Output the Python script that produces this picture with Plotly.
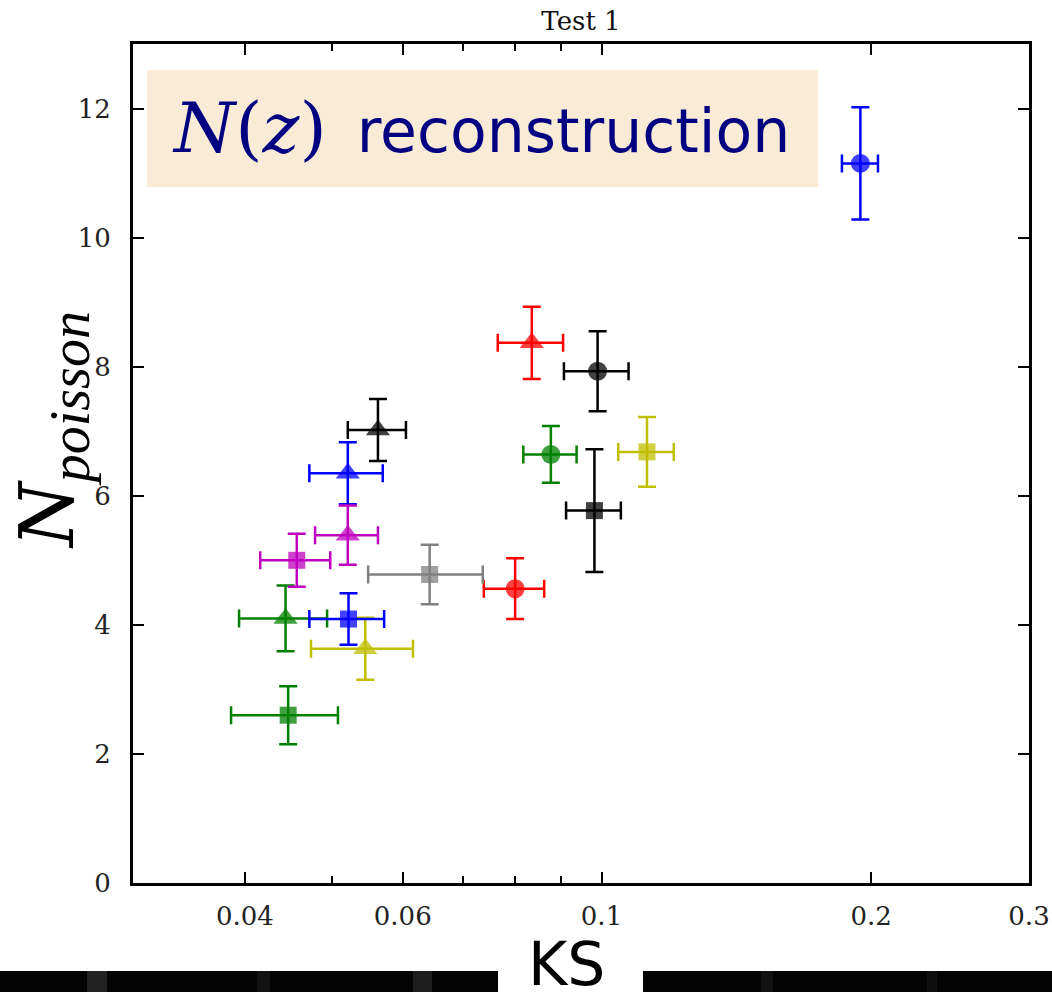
import math
import plotly.graph_objects as go

# KS statistic vs. Poisson N for each reconstruction, grouped by marker shape
circle_colors = ["blue", "black", "green", "red"]
circle_ks = [0.1945, 0.0990, 0.0878, 0.0801]
circle_ks_err = [0.0090, 0.0082, 0.0060, 0.0062]
circle_n = [11.15, 7.93, 6.64, 4.56]
circle_n_err = [0.87, 0.62, 0.44, 0.47]

triangle_colors = ["red", "black", "blue", "magenta", "green", "yellow"]
triangle_ks = [0.0836, 0.0563, 0.0521, 0.0521, 0.0444, 0.0545]
triangle_ks_err = [0.0070, 0.0042, 0.0049, 0.0042, 0.0050, 0.0071]
triangle_n = [8.37, 7.02, 6.35, 5.39, 4.10, 3.63]
triangle_n_err = [0.56, 0.48, 0.48, 0.46, 0.51, 0.48]

square_colors = ["yellow", "black", "gray", "magenta", "blue", "green"]
square_ks = [0.1124, 0.0982, 0.0643, 0.0457, 0.0522, 0.0447]
square_ks_err = [0.0080, 0.0069, 0.0094, 0.0041, 0.0050, 0.0061]
square_n = [6.68, 5.77, 4.78, 5.00, 4.09, 2.60]
square_n_err = [0.54, 0.95, 0.46, 0.41, 0.40, 0.45]

x_major = [0.04, 0.06, 0.1, 0.2, 0.3]
x_major_text = ["0.04", "0.06", "0.1", "0.2", "0.3"]
x_minor = [0.05, 0.07, 0.08, 0.09]
y_ticks = [0, 2, 4, 6, 8, 10, 12]

PALETTE = {
    "blue": "#0000ff",
    "black": "#000000",
    "green": "#008000",
    "red": "#ff0000",
    "magenta": "#bf00bf",
    "yellow": "#bfbf00",
    "gray": "#808080",
}

SERIF = "DejaVu Serif"
SERIF_NARROW = "Liberation Serif"
SANS = "DejaVu Sans"

# Plot area in pixels (left, right, top, bottom) of the 1052x992 canvas
PL, PR, PT, PB = 133, 1029, 44, 883
PW, PH = PR - PL, PB - PT


def px_x(px):
    return (px - PL) / PW


def px_y(py):
    return (PB - py) / PH


fig = go.Figure()

groups = [
    ("circle", 19, circle_colors, circle_ks, circle_ks_err, circle_n, circle_n_err),
    ("triangle-up", 21, triangle_colors, triangle_ks, triangle_ks_err, triangle_n, triangle_n_err),
    ("square", 17, square_colors, square_ks, square_ks_err, square_n, square_n_err),
]

for symbol, size, colors, ks, ks_err, n, n_err in groups:
    for c, x, ex, y, ey in zip(colors, ks, ks_err, n, n_err):
        col = PALETTE[c]
        fig.add_trace(go.Scatter(
            x=[x], y=[y], mode="markers",
            marker=dict(symbol=symbol, size=size, color=col, opacity=0.75,
                        line=dict(width=0)),
            error_x=dict(type="data", array=[ex], color=col, thickness=2.5, width=9),
            error_y=dict(type="data", array=[ey], color=col, thickness=2.5, width=9),
            showlegend=False,
        ))

tick_font = dict(family=SERIF, size=26, color="#222222")

fig.update_layout(
    width=1052, height=992,
    margin=dict(l=PL, r=1052 - PR, t=PT, b=992 - PB, autoexpand=False),
    paper_bgcolor="white", plot_bgcolor="white",
    title=dict(text="Test 1", x=0.5, xref="paper", xanchor="center",
               y=1 - 21 / 992, yref="container", yanchor="middle",
               font=dict(family=SERIF, size=26, color="#111111")),
    xaxis=dict(
        type="log", range=[math.log10(0.03), math.log10(0.3)],
        tickmode="array", tickvals=x_major, ticktext=x_major_text,
        ticks="inside", ticklen=11, tickwidth=1.5, tickcolor="black",
        minor=dict(tickmode="array", tickvals=x_minor, ticks="inside",
                   ticklen=7, tickwidth=1.5, tickcolor="black"),
        showline=True, linewidth=3, linecolor="black", mirror="ticks",
        showgrid=False, zeroline=False, tickfont=tick_font,
        ticklabelstandoff=8, automargin=False,
    ),
    yaxis=dict(
        range=[0, 13], tickmode="array", tickvals=y_ticks,
        ticks="inside", ticklen=11, tickwidth=1.5, tickcolor="black",
        showline=True, linewidth=3, linecolor="black", mirror="ticks",
        showgrid=False, zeroline=False, tickfont=tick_font,
        ticklabelstandoff=14, automargin=False,
    ),
)

# Y-axis label
fig.add_annotation(
    text=("<i><span style=\"font-family:'DejaVu Serif'\">N</span>"
          "<sub><span style=\"font-size:56px\">poisson</span></sub></i>"),
    xref="paper", yref="paper", x=px_x(52), y=px_y(430),
    xanchor="center", yanchor="middle", textangle=-90, showarrow=False,
    font=dict(family=SERIF_NARROW, size=74, color="black"),
)

# X-axis label
fig.add_annotation(
    text="KS", xref="paper", yref="paper",
    x=px_x(566), y=px_y(964),
    xanchor="center", yanchor="middle", showarrow=False,
    font=dict(family=SANS, size=60, color="black"),
)

# Dark strips along the bottom edge, broken around the x label
strips = [(-0.16, px_x(498)), (px_x(643), 1.04)]
for x0, x1 in strips:
    fig.add_shape(type="rect", xref="paper", yref="paper",
                  x0=x0, x1=x1, y0=px_y(971), y1=px_y(1000),
                  fillcolor="#030303", line=dict(width=0), layer="above")
for px0, px1, shade in [(87, 107, "#222222"), (257, 270, "#111111"),
                        (413, 432, "#1e1e1e"), (761, 773, "#111111"),
                        (927, 937, "#0e0e0e")]:
    fig.add_shape(type="rect", xref="paper", yref="paper",
                  x0=px_x(px0), x1=px_x(px1), y0=px_y(971), y1=px_y(1000),
                  fillcolor=shade, line=dict(width=0), layer="above")

# Caption box inside the plot
fig.add_shape(type="rect", xref="paper", yref="paper",
              x0=px_x(147), x1=px_x(818), y0=px_y(187), y1=px_y(70),
              fillcolor="#faebd7", line=dict(width=0), layer="below")
fig.add_annotation(
    text=("<span style=\"font-family:'DejaVu Serif';font-size:70px\">"
          "<i>N</i>(<i>z</i>)</span>&#8194;reconstruction"),
    xref="paper", yref="paper",
    x=px_x(481), y=px_y(128),
    xanchor="center", yanchor="middle", showarrow=False,
    font=dict(family=SANS, size=60, color="#000080"),
)

fig.write_html("out.html")
